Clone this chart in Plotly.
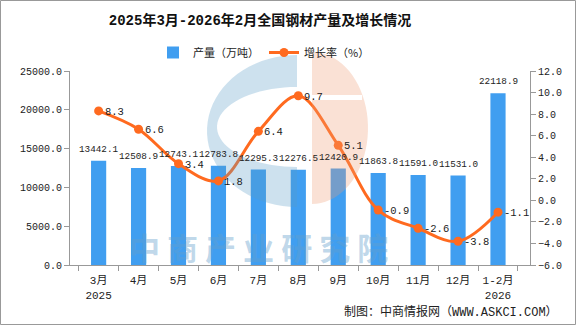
import numpy as np
import plotly.graph_objects as go

categories = ["3月<br>2025", "4月", "5月", "6月", "7月", "8月", "9月", "10月", "11月", "12月", "1-2月<br>2026"]
output = [13442.1, 12508.9, 12743.1, 12783.8, 12295.3, 12276.5, 12420.9, 11863.8, 11591.0, 11531.0, 22118.9]
growth = [8.3, 6.6, 3.4, 1.8, 6.4, 9.7, 5.1, -0.9, -2.6, -3.8, -1.1]

W, H = 576, 325
ML, MR, MT, MB = 70, 46, 71, 60
PW, PH = W - ML - MR, H - MT - MB

def X(px):
    return (px - ML) / PW

def Y(py):
    return (H - MB - py) / PH

MONO = "Liberation Mono, Noto Sans CJK SC"
CJK = "Noto Sans CJK SC"
BLUE = "#409EF0"
ORANGE = "#FF6A1F"

fig = go.Figure()
fig.add_trace(go.Bar(
    x=categories, y=output, name="产量（万吨）",
    marker=dict(color=BLUE, line=dict(width=0)), width=0.38, cliponaxis=False,
))
fig.add_trace(go.Scatter(
    x=categories, y=growth, name="增长率（%）", yaxis="y2",
    mode="lines+markers", line=dict(color=ORANGE, width=3, shape="spline", smoothing=1),
    marker=dict(color=ORANGE, size=9), cliponaxis=False,
))

# logo watermark
def half_ellipse(cx, cy, rx, ry, side, n=40):
    t = np.linspace(-np.pi / 2, np.pi / 2, n)
    xs = cx + side * rx * np.cos(t)
    ys = cy + ry * np.sin(t)
    return [(X(a), Y(b)) for a, b in zip(xs, ys)]

def to_path(pts):
    return "M " + " L ".join(f"{a:.4f},{b:.4f}" for a, b in pts) + " Z"

blue_path = to_path(half_ellipse(297, 131, 90, 76, -1)) + " " + to_path(half_ellipse(297, 127, 80, 40, -1))
stripe = [(X(312), Y(95)), (X(362), Y(95)), (X(362), Y(100)), (X(312), Y(100))]
orange_path = to_path(half_ellipse(312, 128, 56, 76, 1)) + " " + to_path(stripe)

shapes = [
    dict(type="path", xref="paper", yref="paper", path=blue_path, fillcolor="rgb(88,155,198)",
         opacity=0.3, line=dict(width=0), layer="above", fillrule="evenodd"),
    dict(type="path", xref="paper", yref="paper", path=orange_path, fillcolor="rgb(238,155,115)",
         opacity=0.3, line=dict(width=0), layer="above", fillrule="evenodd"),
    dict(type="rect", xref="paper", yref="paper", x0=X(0.5), x1=X(575.5), y0=Y(0.5), y1=Y(324.5),
         line=dict(color="#999", width=1), fillcolor="rgba(0,0,0,0)", layer="above"),
]

annotations = [
    dict(text="中 商 产 业 研 究 院", xref="paper", yref="paper", x=X(258), y=Y(246), xanchor="center",
         yanchor="middle", showarrow=False,
         font=dict(family=CJK, size=31, color="rgba(100,160,205,0.42)", weight="bold")),
    dict(text="制图：中商情报网（WWW.ASKCI.COM）", xref="paper", yref="paper", x=X(560), y=Y(312),
         xanchor="right", yanchor="middle", showarrow=False, font=dict(family=MONO, size=12, color="#222")),
]
# bar value labels
for c, v in zip(categories, output):
    annotations.append(dict(text=f"{v:.1f}", xref="x", yref="y", x=c, y=v, xanchor="center",
                            yanchor="bottom", yshift=5, showarrow=False, borderpad=0,
                            font=dict(family=MONO, size=9.3, color="#222")))
# growth labels
for c, v in zip(categories, growth):
    annotations.append(dict(text=f"{v:.1f}", xref="x", yref="y2", x=c, y=v, xanchor="left",
                            yanchor="middle", xshift=5, yshift=-1, showarrow=False, borderpad=0,
                            font=dict(family=MONO, size=10.5, color="#222")))

fig.update_layout(
    width=W, height=H, margin=dict(l=ML, r=MR, t=MT, b=MB),
    paper_bgcolor="white", plot_bgcolor="white",
    font=dict(family=MONO, size=11, color="#222"),
    title=dict(text="<b>2025年3月-2026年2月全国钢材产量及增长情况</b>", x=260 / W, y=1 - 20 / H,
               xanchor="center", yanchor="middle", font=dict(family=MONO, size=14, color="#111")),
    legend=dict(orientation="h", x=X(264), y=Y(38), xanchor="center", yanchor="top",
                font=dict(family=CJK, size=11, color="#222"), bgcolor="rgba(0,0,0,0)"),
    showlegend=True,
    xaxis=dict(showline=True, linecolor="#999", ticks="outside", tickson="boundaries", ticklen=5,
               tickcolor="#999", showgrid=False, tickfont=dict(family=MONO, size=11),
               ticklabelstandoff=5),
    yaxis=dict(range=[0, 25000], dtick=5000, tickformat=".1f", showline=True, linecolor="#999",
               ticks="outside", ticklen=5, tickcolor="#999", showgrid=False, zeroline=False,
               tickfont=dict(family=MONO, size=10)),
    yaxis2=dict(range=[-6, 12], dtick=2, tickformat=".1f", overlaying="y", side="right", showline=True,
                linecolor="#999", ticks="outside", ticklen=5, tickcolor="#999", showgrid=False,
                zeroline=False, tickfont=dict(family=MONO, size=10)),
    bargap=0.62,
    shapes=shapes, annotations=annotations,
)

fig.write_html("out.html")
